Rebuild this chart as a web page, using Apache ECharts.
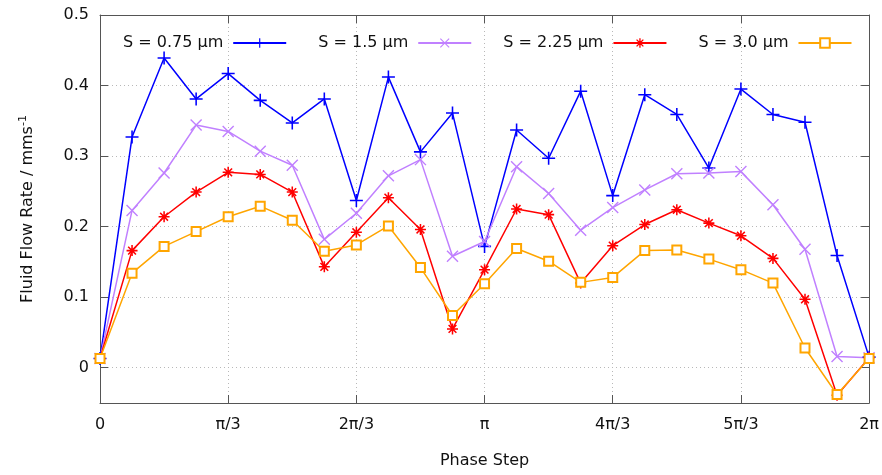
<!DOCTYPE html>
<html>
<head>
<meta charset="utf-8">
<script src="https://cdn.jsdelivr.net/npm/echarts@6/dist/echarts.min.js"></script>
<style>
  html, body { margin: 0; padding: 0; background: #fff; }
  #chart { width: 882px; height: 475px; }
</style>
</head>
<body>
<div id="chart"></div>
<script>
// Phase step index (each step is π/12, 24 steps per full cycle)
const phaseSteps = [0, 1, 2, 3, 4, 5, 6, 7, 8, 9, 10, 11, 12, 13, 14, 15, 16, 17, 18, 19, 20, 21, 22, 23, 24];
// Tick labels shown every 4 steps (π/3)
const phaseTickLabels = ['0', 'π/3', '2π/3', 'π', '4π/3', '5π/3', '2π'];

const seriesNames = ['S = 0.75 µm', 'S = 1.5 µm', 'S = 2.25 µm', 'S = 3.0 µm'];

// Fluid flow rate (mm/s) per phase step
const flowS075 = [0.013, 0.327, 0.439, 0.381, 0.417, 0.379, 0.347, 0.381, 0.237, 0.412, 0.306, 0.361,
                  0.172, 0.337, 0.297, 0.392, 0.244, 0.387, 0.359, 0.283, 0.395, 0.359, 0.348, 0.159, 0.015];
const flowS150 = [0.013, 0.223, 0.276, 0.344, 0.335, 0.307, 0.287, 0.182, 0.219, 0.272, 0.295, 0.158,
                  0.179, 0.285, 0.247, 0.195, 0.227, 0.252, 0.275, 0.276, 0.278, 0.231, 0.168, 0.016, 0.014];
const flowS225 = [0.013, 0.166, 0.214, 0.249, 0.277, 0.274, 0.249, 0.143, 0.192, 0.241, 0.196, 0.055,
                  0.139, 0.225, 0.217, 0.120, 0.173, 0.203, 0.224, 0.205, 0.187, 0.155, 0.097, -0.039, 0.014];
const flowS300 = [0.013, 0.134, 0.172, 0.193, 0.214, 0.229, 0.209, 0.165, 0.174, 0.201, 0.142, 0.074,
                  0.119, 0.169, 0.151, 0.121, 0.128, 0.166, 0.167, 0.154, 0.139, 0.120, 0.028, -0.038, 0.013];

const seriesColors = ['#0000ff', '#c080ff', '#ff0000', '#ffa500'];

// Marker outlines built from thin bars
function barPoints(half, thick) {
  return [[-thick, -half], [thick, -half], [thick, -thick], [half, -thick], [half, thick], [thick, thick],
          [thick, half], [-thick, half], [-thick, thick], [-half, thick], [-half, -thick], [-thick, -thick]];
}
function rotate(pts, deg) {
  const a = deg * Math.PI / 180, c = Math.cos(a), s = Math.sin(a);
  return pts.map(p => [p[0] * c - p[1] * s, p[0] * s + p[1] * c]);
}
function toPath(list) {
  return list.map(pts => 'M' + pts.map(p => p[0].toFixed(3) + ',' + p[1].toFixed(3)).join(' L') + ' Z').join(' ');
}
const plusSym = 'path://' + toPath([barPoints(5, 0.6)]);
const crossSym = 'path://' + toPath([rotate(barPoints(5, 0.45), 45)]);
const starSym = 'path://' + toPath([barPoints(5, 0.7), rotate(barPoints(5, 0.7), 45)]);

const FONT = 'DejaVu Sans';

function pairs(values) {
  return phaseSteps.map((x, i) => [x, values[i]]);
}

const lineDefs = [
  { data: flowS075, symbol: plusSym, size: 13 },
  { data: flowS150, symbol: crossSym, size: 12 },
  { data: flowS225, symbol: starSym, size: 11 },
  { data: flowS300, symbol: 'emptyRect', size: 9 }
];

const chart = echarts.init(document.getElementById('chart'), null, { renderer: 'canvas' });

const axisColor = '#555555';
const gridColor = '#b8b8b8';

chart.setOption({
  animation: false,
  backgroundColor: '#ffffff',
  grid: { left: 100, right: 10, top: 15, bottom: 72, containLabel: false },
  legend: {
    top: 30,
    left: 118,
    align: 'right',
    itemWidth: 53,
    itemHeight: 12,
    itemGap: 31,
    textStyle: { fontFamily: FONT, fontSize: 16, color: '#111', padding: [0, 5, 0, 0] },
    data: seriesNames
  },
  xAxis: [
    {
      type: 'value',
      min: 0, max: 24, interval: 4,
      name: 'Phase Step',
      nameLocation: 'middle',
      nameGap: 50,
      nameTextStyle: { fontFamily: FONT, fontSize: 16, color: '#111' },
      axisLine: { show: true, onZero: false, lineStyle: { color: axisColor, width: 1 } },
      axisTick: { show: true, inside: true, length: 8, lineStyle: { color: axisColor } },
      axisLabel: {
        margin: 14,
        fontFamily: FONT, fontSize: 16, color: '#111',
        formatter: v => phaseTickLabels[Math.round(v / 4)] ?? ''
      },
      splitLine: { show: true, lineStyle: { color: gridColor, type: [1, 3], width: 1 } }
    },
    {
      type: 'value', position: 'top',
      min: 0, max: 24, interval: 4,
      axisLine: { show: true, onZero: false, lineStyle: { color: axisColor, width: 1 } },
      axisTick: { show: true, inside: true, length: 8, lineStyle: { color: axisColor } },
      axisLabel: { show: false },
      splitLine: { show: false }
    }
  ],
  yAxis: [
    {
      type: 'value',
      min: -0.05, max: 0.5, splitNumber: 5,
      name: '{a|Fluid Flow Rate / mms}{b|-1}',
      nameLocation: 'middle',
      nameGap: 62,
      nameTextStyle: {
        fontFamily: FONT, color: '#111',
        rich: {
          a: { fontFamily: FONT, fontSize: 16, color: '#111', lineHeight: 20 },
          b: { fontFamily: FONT, fontSize: 11, color: '#111', lineHeight: 20, verticalAlign: 'top', padding: [0, 0, 8, 0] }
        }
      },
      axisLine: { show: true, onZero: false, lineStyle: { color: axisColor, width: 1 } },
      axisTick: { show: true, inside: true, length: 8, lineStyle: { color: axisColor } },
      axisLabel: {
        margin: 11,
        fontFamily: FONT, fontSize: 16, color: '#111',
        formatter: v => (Math.abs(Math.round(v * 10) - v * 10) > 1e-6) ? '' : (Math.abs(v) < 1e-9 ? '0' : String(+v.toFixed(1)))
      },
      splitLine: { show: true, lineStyle: { color: gridColor, type: [1, 3], width: 1 } }
    },
    {
      type: 'value', position: 'right',
      min: -0.05, max: 0.5, splitNumber: 5,
      axisLine: { show: true, onZero: false, lineStyle: { color: axisColor, width: 1 } },
      axisTick: { show: true, inside: true, length: 8, lineStyle: { color: axisColor } },
      axisLabel: { show: false },
      splitLine: { show: false }
    }
  ],
  series: lineDefs.map((d, k) => ({
    name: seriesNames[k],
    type: 'line',
    xAxisIndex: 0,
    yAxisIndex: 0,
    data: pairs(d.data),
    symbol: d.symbol,
    symbolSize: d.size,
    showAllSymbol: true,
    color: seriesColors[k],
    lineStyle: { color: seriesColors[k], width: 1.5 },
    itemStyle: { color: seriesColors[k], borderColor: seriesColors[k], borderWidth: d.symbol === 'emptyRect' ? 1.5 : 0 },
    emphasis: { disabled: true }
  }))
});
</script>
</body>
</html>
